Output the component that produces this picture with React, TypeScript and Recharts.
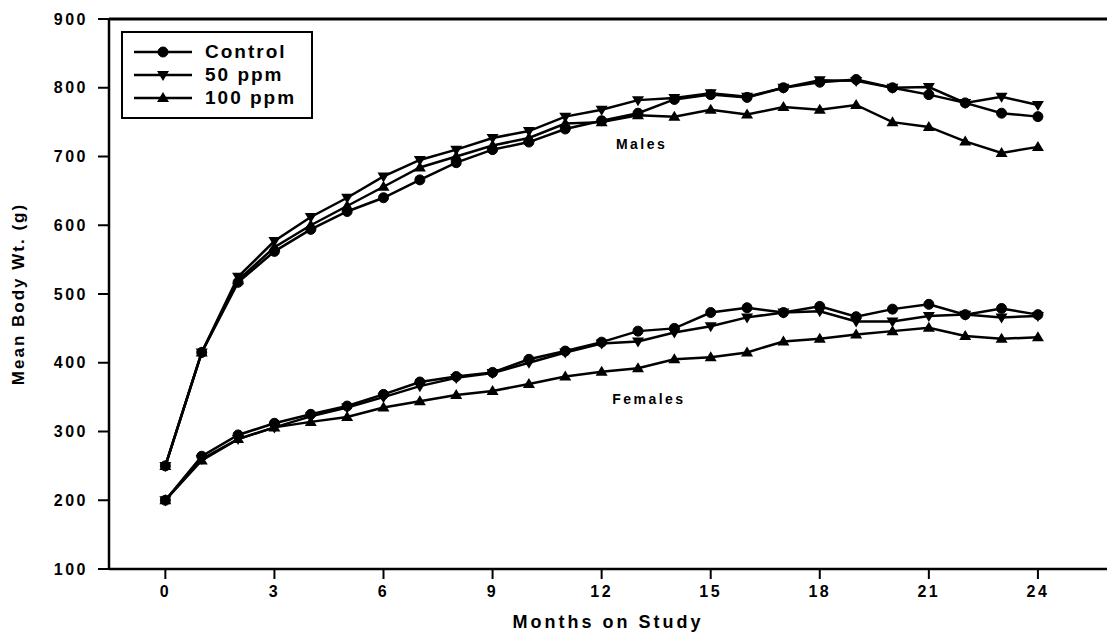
import React from 'react';
import { LineChart, Line, XAxis, YAxis, ReferenceLine, ReferenceDot } from 'recharts';

const months = [0, 1, 2, 3, 4, 5, 6, 7, 8, 9, 10, 11, 12, 13, 14, 15, 16, 17, 18, 19, 20, 21, 22, 23, 24];

const malesControl = [250, 415, 517, 562, 594, 620, 640, 666, 691, 710, 721, 740, 752, 763, 783, 790, 786, 800, 808, 812, 800, 790, 778, 763, 758];
const males50 = [250, 415, 525, 577, 612, 640, 671, 695, 710, 727, 737, 758, 768, 782, 785, 792, 787, 800, 811, 810, 800, 801, 778, 787, 775];
const males100 = [250, 415, 520, 568, 600, 628, 656, 684, 700, 716, 727, 748, 750, 760, 758, 768, 761, 772, 768, 775, 750, 743, 722, 705, 714];

const femalesControl = [200, 264, 295, 312, 325, 337, 354, 372, 380, 386, 405, 417, 430, 446, 450, 473, 480, 473, 482, 467, 478, 485, 470, 479, 470];
const females50 = [200, 260, 289, 306, 322, 335, 350, 366, 378, 385, 400, 415, 428, 431, 444, 453, 466, 473, 475, 460, 460, 468, 470, 466, 468];
const females100 = [200, 258, 289, 306, 314, 321, 335, 344, 353, 359, 369, 380, 387, 392, 405, 408, 415, 431, 435, 441, 446, 451, 439, 435, 437];

const xTicks = [0, 3, 6, 9, 12, 15, 18, 21, 24];
const yTicks = [100, 200, 300, 400, 500, 600, 700, 800, 900];
const legendNames = ['Control', '50 ppm', '100 ppm'];

const data = months.map((m, i) => ({
  month: m,
  mC: malesControl[i],
  m50: males50[i],
  m100: males100[i],
  fC: femalesControl[i],
  f50: females50[i],
  f100: females100[i],
}));

const FONT = '"Liberation Sans", Arial, Helvetica, sans-serif';

const CircleDot = (props: any) => {
  const { cx, cy, index } = props;
  if (cx == null || cy == null) return <g key={`c${index}`} />;
  return <circle key={`c${index}`} cx={cx} cy={cy} r={5} fill="#000" stroke="#000" />;
};
const DownTri = (props: any) => {
  const { cx, cy, index } = props;
  if (cx == null || cy == null) return <g key={`d${index}`} />;
  return (
    <polygon
      key={`d${index}`}
      points={`${cx - 6},${cy - 4} ${cx + 6},${cy - 4} ${cx},${cy + 6}`}
      fill="#000"
    />
  );
};
const UpTri = (props: any) => {
  const { cx, cy, index } = props;
  if (cx == null || cy == null) return <g key={`u${index}`} />;
  return (
    <polygon
      key={`u${index}`}
      points={`${cx - 6},${cy + 4} ${cx + 6},${cy + 4} ${cx},${cy - 6}`}
      fill="#000"
    />
  );
};

const shapes = [CircleDot, DownTri, UpTri];

const LegendBox = () => (
  <div
    style={{
      position: 'absolute',
      left: 121,
      top: 31,
      width: 188,
      height: 84,
      border: '2.5px solid #000',
      background: '#fff',
      fontFamily: FONT,
    }}
  >
    {legendNames.map((name, i) => {
      const Shape = shapes[i];
      return (
        <div key={name} style={{ position: 'absolute', left: 9, top: 8 + i * 23, height: 22, display: 'flex', alignItems: 'center' }}>
          <svg width={62} height={22}>
            <line x1={2} y1={11} x2={60} y2={11} stroke="#000" strokeWidth={2.5} />
            <Shape cx={31} cy={11} index={i} />
          </svg>
          <span style={{ marginLeft: 11, fontSize: 19, fontWeight: 700, letterSpacing: 2, color: '#000', lineHeight: '22px' }}>
            {name}
          </span>
        </div>
      );
    })}
  </div>
);

const tickStyle = { fontSize: 16, fontWeight: 700, fill: '#000', fontFamily: FONT, letterSpacing: 2.5 };

const GroupLabel = (text: string) => (props: any) => {
  const { viewBox } = props;
  const cx = viewBox.cx ?? viewBox.x;
  const cy = viewBox.cy ?? viewBox.y;
  return (
    <text
      x={cx}
      y={cy}
      textAnchor="middle"
      dominantBaseline="middle"
      fontFamily={FONT}
      fontWeight={700}
      fontSize={14}
      letterSpacing={2.5}
      fill="#000"
    >
      {text}
    </text>
  );
};

export default function App() {
  const lineProps = {
    type: 'linear' as const,
    stroke: '#000',
    strokeWidth: 2.5,
    isAnimationActive: false,
  };
  return (
    <div style={{ position: 'absolute', left: 0, top: 0, width: 1107, height: 636, background: '#fff' }}>
      <LineChart width={1107} height={636} data={data} margin={{ top: 19, right: 0, left: 0, bottom: 0 }}>
        <XAxis
          dataKey="month"
          type="number"
          domain={[-1.55, 25.9]}
          ticks={xTicks}
          allowDataOverflow
          height={67}
          axisLine={{ stroke: '#000', strokeWidth: 2.5 }}
          tickLine={{ stroke: '#000', strokeWidth: 2 }}
          tickSize={10}
          tickMargin={7}
          tick={tickStyle}
          label={{
            value: 'Months on Study',
            position: 'insideBottom',
            offset: 8,
            style: { fontSize: 18, fontWeight: 700, fill: '#000', fontFamily: FONT, letterSpacing: 3 },
          }}
        />
        <YAxis
          type="number"
          domain={[100, 900]}
          ticks={yTicks}
          allowDataOverflow
          width={109}
          axisLine={{ stroke: '#000', strokeWidth: 2.5 }}
          tickLine={{ stroke: '#000', strokeWidth: 2 }}
          tickSize={11}
          tickMargin={10}
          tick={tickStyle}
          label={{
            value: 'Mean Body Wt. (g)',
            angle: -90,
            position: 'insideLeft',
            offset: 18,
            style: { textAnchor: 'middle', fontSize: 17, fontWeight: 700, fill: '#000', fontFamily: FONT, letterSpacing: 2 },
          }}
        />
        <ReferenceLine y={900} stroke="#000" strokeWidth={3} ifOverflow="visible" />
        <Line {...lineProps} dataKey="m100" dot={UpTri} />
        <Line {...lineProps} dataKey="mC" dot={CircleDot} />
        <Line {...lineProps} dataKey="m50" dot={DownTri} />
        <Line {...lineProps} dataKey="f100" dot={UpTri} />
        <Line {...lineProps} dataKey="f50" dot={DownTri} />
        <Line {...lineProps} dataKey="fC" dot={CircleDot} />
        <ReferenceDot x={13.1} y={717} r={0} ifOverflow="visible" label={GroupLabel('Males')} />
        <ReferenceDot x={13.3} y={346} r={0} ifOverflow="visible" label={GroupLabel('Females')} />
      </LineChart>
      <LegendBox />
    </div>
  );
}
